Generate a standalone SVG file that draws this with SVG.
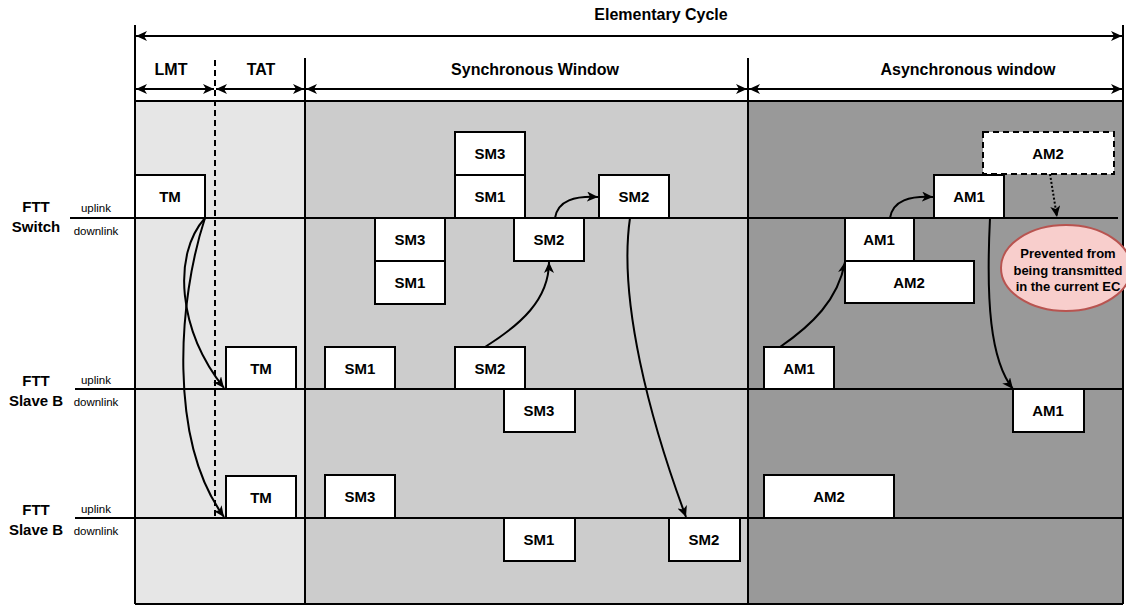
<svg xmlns="http://www.w3.org/2000/svg" width="1126" height="606" viewBox="0 0 1126 606">
<defs>
<marker id="ah" markerUnits="userSpaceOnUse" markerWidth="12" markerHeight="10" refX="11" refY="5" orient="auto-start-reverse">
<path d="M0,0 L11,5 L0,10 L3,5 z" fill="#000"/>
</marker>
<style>
.box{fill:#fff;stroke:#000;stroke-width:2}
.lbl{font-family:"Liberation Sans",Arial,sans-serif;font-weight:bold;font-size:15px;fill:#000;text-anchor:middle}
.hdr{font-family:"Liberation Sans",Arial,sans-serif;font-weight:bold;font-size:16px;fill:#000;text-anchor:middle}
.node{font-family:"Liberation Sans",Arial,sans-serif;font-weight:bold;font-size:15px;fill:#000;text-anchor:middle}
.lnk{font-family:"Liberation Sans",Arial,sans-serif;font-size:11.5px;fill:#000;text-anchor:middle}
.ln{stroke:#000;stroke-width:2;fill:none}
.dim{stroke:#000;stroke-width:2;fill:none;marker-start:url(#ah);marker-end:url(#ah)}
.conn{stroke:#000;stroke-width:2;fill:none;marker-end:url(#ah)}
</style>
</defs>

<!-- background regions -->
<g id="regions">
<rect x="135" y="101" width="170" height="503" fill="#e6e6e6"/>
<rect x="305" y="101" width="443" height="503" fill="#cccccc"/>
<rect x="748" y="101" width="375" height="503" fill="#999999"/>
</g>

<!-- frame and lines -->
<g id="frame">
<line class="ln" x1="135" y1="25" x2="135" y2="604"/>
<line class="ln" x1="1123" y1="25" x2="1123" y2="604"/>
<line class="ln" x1="305" y1="58" x2="305" y2="604"/>
<line class="ln" x1="748" y1="58" x2="748" y2="604"/>
<line class="ln" x1="135" y1="101" x2="1123" y2="101"/>
<line class="ln" x1="135" y1="604" x2="1123" y2="604"/>
<line class="ln" x1="70" y1="218" x2="1118" y2="218"/>
<line class="ln" x1="75" y1="389" x2="1123" y2="389"/>
<line class="ln" x1="75" y1="518" x2="1123" y2="518"/>
<line x1="215" y1="60" x2="215" y2="518" stroke="#000" stroke-width="2" stroke-dasharray="6,4"/>
</g>

<!-- dimension arrows and header texts -->
<g id="header">
<line class="dim" x1="136" y1="36" x2="1122" y2="36"/>
<line class="dim" x1="136" y1="89" x2="214" y2="89"/>
<line class="dim" x1="216" y1="89" x2="304" y2="89"/>
<line class="dim" x1="306" y1="89" x2="747" y2="89"/>
<line class="dim" x1="749" y1="89" x2="1122" y2="89"/>
<text class="hdr" x="661" y="20">Elementary Cycle</text>
<text class="hdr" x="171" y="75">LMT</text>
<text class="hdr" x="261" y="75">TAT</text>
<text class="hdr" x="535" y="75">Synchronous Window</text>
<text class="hdr" x="968" y="75">Asynchronous window</text>
</g>

<!-- row labels -->
<g id="rowlabels">
<text class="node" x="36" y="212">FTT</text>
<text class="node" x="36" y="232">Switch</text>
<text class="lnk" x="96" y="212">uplink</text>
<text class="lnk" x="96" y="235">downlink</text>
<text class="node" x="36" y="386">FTT</text>
<text class="node" x="36" y="406">Slave B</text>
<text class="lnk" x="96" y="384">uplink</text>
<text class="lnk" x="96" y="406">downlink</text>
<text class="node" x="36" y="515">FTT</text>
<text class="node" x="36" y="535">Slave B</text>
<text class="lnk" x="96" y="513">uplink</text>
<text class="lnk" x="96" y="535">downlink</text>
</g>

<!-- connectors -->
<g id="connectors">
<path class="conn" d="M205,218 C172,255 178,330 224,388"/>
<path class="conn" d="M205,218 C178,300 168,440 224,517"/>
<path class="conn" d="M485,347 C520,325 549,300 549,262"/>
<path class="conn" d="M555,218 C558,200 575,196 598,197"/>
<path class="conn" d="M630,218 C618,300 650,420 686,517"/>
<path class="conn" d="M780,347 C812,325 838,300 845,262"/>
<path class="conn" d="M890,218 C893,200 910,196 933,197"/>
<path class="conn" d="M990,218 C986,300 990,360 1013,389"/>
<path d="M1050,174 L1057,217" stroke="#000" stroke-width="2" stroke-dasharray="2,2" fill="none" marker-end="url(#ah)"/>
</g>

<!-- switch nodes -->
<g id="sw-tm"><rect class="box" x="135" y="175" width="70" height="43"/><text class="lbl" x="170" y="202">TM</text></g>
<g id="sw-sm3-up"><rect class="box" x="455" y="132" width="70" height="43"/><text class="lbl" x="490" y="159">SM3</text></g>
<g id="sw-sm1-up"><rect class="box" x="455" y="175" width="70" height="43"/><text class="lbl" x="490" y="202">SM1</text></g>
<g id="sw-sm2-up"><rect class="box" x="599" y="175" width="70" height="43"/><text class="lbl" x="634" y="202">SM2</text></g>
<g id="sw-sm3-dn"><rect class="box" x="375" y="218" width="70" height="43"/><text class="lbl" x="410" y="245">SM3</text></g>
<g id="sw-sm1-dn"><rect class="box" x="375" y="261" width="70" height="43"/><text class="lbl" x="410" y="288">SM1</text></g>
<g id="sw-sm2-dn"><rect class="box" x="514" y="218" width="70" height="43"/><text class="lbl" x="549" y="245">SM2</text></g>
<g id="sw-am2-blocked"><rect x="983" y="132" width="131" height="42" fill="#fff" stroke="#000" stroke-width="2" stroke-dasharray="6,4"/><text class="lbl" x="1048" y="159">AM2</text></g>
<g id="sw-am1-up"><rect class="box" x="934" y="175" width="70" height="43"/><text class="lbl" x="969" y="202">AM1</text></g>
<g id="sw-am1-dn"><rect class="box" x="845" y="218" width="69" height="43"/><text class="lbl" x="879" y="245">AM1</text></g>
<g id="sw-am2-dn"><rect class="box" x="845" y="261" width="129" height="42" /><text class="lbl" x="909" y="288">AM2</text></g>
<g id="note">
<ellipse cx="1066" cy="268" rx="65" ry="43" fill="#f8cecc" stroke="#b85450" stroke-width="2"/>
<text class="lbl" style="font-size:13px" x="1068" y="258">Prevented from</text>
<text class="lbl" style="font-size:13px" x="1068" y="275">being transmitted</text>
<text class="lbl" style="font-size:13px" x="1068" y="291">in the current EC</text>
</g>

<!-- slave B (1) nodes -->
<g id="s1-tm"><rect class="box" x="226" y="347" width="70" height="42"/><text class="lbl" x="261" y="374">TM</text></g>
<g id="s1-sm1-up"><rect class="box" x="325" y="347" width="70" height="42"/><text class="lbl" x="360" y="374">SM1</text></g>
<g id="s1-sm2-up"><rect class="box" x="455" y="347" width="70" height="42"/><text class="lbl" x="490" y="374">SM2</text></g>
<g id="s1-sm3-dn"><rect class="box" x="504" y="389" width="71" height="43"/><text class="lbl" x="539" y="416">SM3</text></g>
<g id="s1-am1-up"><rect class="box" x="764" y="347" width="70" height="42"/><text class="lbl" x="799" y="374">AM1</text></g>
<g id="s1-am1-dn"><rect class="box" x="1013" y="389" width="71" height="43"/><text class="lbl" x="1048" y="416">AM1</text></g>

<!-- slave B (2) nodes -->
<g id="s2-tm"><rect class="box" x="226" y="476" width="70" height="42"/><text class="lbl" x="261" y="503">TM</text></g>
<g id="s2-sm3-up"><rect class="box" x="325" y="475" width="70" height="43"/><text class="lbl" x="360" y="502">SM3</text></g>
<g id="s2-sm1-dn"><rect class="box" x="504" y="518" width="71" height="43"/><text class="lbl" x="539" y="545">SM1</text></g>
<g id="s2-sm2-dn"><rect class="box" x="669" y="518" width="71" height="43"/><text class="lbl" x="704" y="545">SM2</text></g>
<g id="s2-am2-up"><rect class="box" x="764" y="475" width="130" height="43"/><text class="lbl" x="829" y="502">AM2</text></g>
</svg>
